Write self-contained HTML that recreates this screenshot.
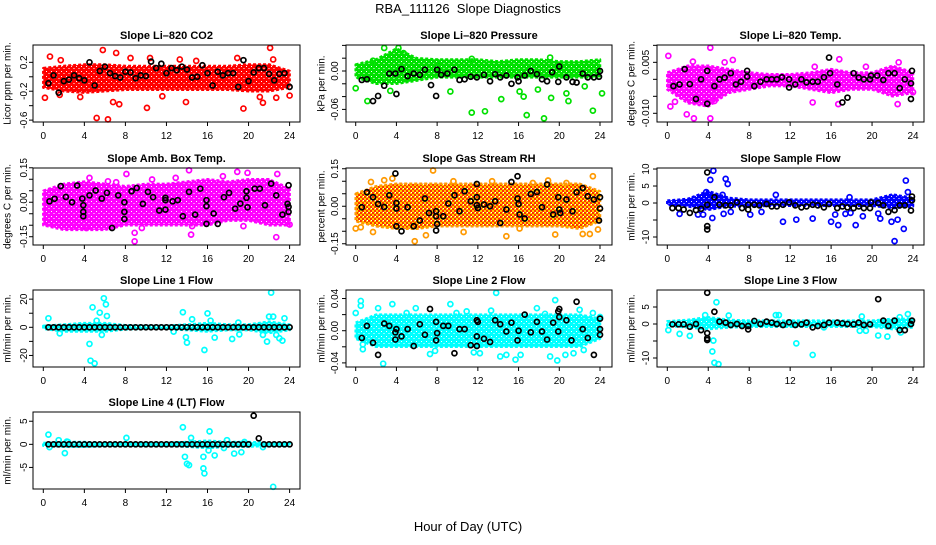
<!DOCTYPE html>
<html><head><meta charset="utf-8">
<style>
html,body{margin:0;padding:0;background:#fff;}
body{width:936px;height:540px;overflow:hidden;font-family:"Liberation Sans",sans-serif;}
svg text{font-family:"Liberation Sans",sans-serif;}
</style></head>
<body>
<svg id="chart" width="936" height="540" viewBox="0 0 936 540" xmlns="http://www.w3.org/2000/svg">
<defs id="defs">
<pattern id="pat-orange" width="4" height="4" patternUnits="userSpaceOnUse">
<rect width="4" height="4" fill="#ffd000"/><rect width="2" height="2" fill="#ff3000"/><rect x="2" y="2" width="2" height="2" fill="#ff3000"/><rect x="3" y="0" width="1" height="1" fill="#fff"/>
</pattern>
</defs>
<text x="468" y="13" font-size="13" text-anchor="middle">RBA_111126&#160; Slope Diagnostics</text>
<text x="468" y="531" font-size="13" text-anchor="middle">Hour of Day (UTC)</text>
<g id="panels"></g>
</svg>
<script>
// ---- shared data ----
const xTicks = [0, 4, 8, 12, 16, 20, 24];
const bandHours = [0, 2, 4, 6, 8, 10, 12, 14, 16, 18, 20, 22, 24];
const halfHours = [0.5,1,1.5,2,2.5,3,3.5,4,4.5,5,5.5,6,6.5,7,7.5,8,8.5,9,9.5,10,10.5,11,11.5,12,12.5,13,13.5,14,14.5,15,15.5,16,16.5,17,17.5,18,18.5,19,19.5,20,20.5,21,21.5,22,22.5,23,23.5,24];

// ---- Panel 1: Li-820 CO2 ----
const p1Ticks = [-0.6, -0.4, -0.2, 0, 0.2];
const p1TickLabels = ["-0.6", "", "-0.2", "", "0.2"];
const p1BandLo = [-0.15,-0.2,-0.22,-0.2,-0.18,-0.18,-0.18,-0.18,-0.18,-0.18,-0.2,-0.2,-0.15];
const p1BandHi = [0.12,0.15,0.17,0.17,0.15,0.15,0.15,0.15,0.15,0.15,0.17,0.17,0.08];
const p1OutX = [0.16,0.65,1.7,5.8,7.1,5.2,6.3,8.5,10.1,10.4,13.9,13.3,19.5,18.9,22.1,21.4,22.7,21.1,24,11.6,6.8,7.4,3.6,1.6,22.4,14.9];
const p1OutY = [-0.29,0.28,0.23,0.37,0.33,-0.57,-0.59,0.26,-0.43,0.26,-0.35,0.24,-0.44,0.26,0.4,-0.36,-0.29,-0.28,-0.26,-0.27,-0.35,-0.38,-0.28,-0.25,0.24,0.22];
const p1BlkX = halfHours;
const p1BlkY = [-0.09,0.02,-0.22,-0.06,-0.04,0.02,-0.02,-0.05,0.2,-0.12,0.08,0.14,0.05,0.01,-0.01,0.07,0.06,-0.02,0.02,0.01,0.21,0.12,0.18,0.05,0.12,0.09,0.14,0.1,-0.01,0,0.16,0.05,-0.12,0.07,0.02,0.05,0.05,-0.14,0.23,-0.06,0.06,0.12,0.12,0.04,-0.05,0.04,0.05,-0.14];

// ---- Panel 2: Li-820 Pressure ----
const p2Ticks = [-0.06, -0.04, -0.02, 0, 0.02, 0.04];
const p2TickLabels = ["-0.06", "", "", "0.00", "", ""];
const p2BandLo = [-0.01,-0.02,-0.02,-0.015,-0.01,-0.01,-0.01,-0.01,-0.01,-0.01,-0.01,-0.01,-0.01];
const p2BandHi = [0.01,0.018,0.035,0.02,0.018,0.018,0.018,0.015,0.018,0.018,0.015,0.015,0.018];
const p2OutX = [0,1.15,2.8,4.2,4.7,3.4,9.3,11.4,12.7,11.4,14.3,16.1,16.5,16.8,17.9,18.5,19.1,19.2,20.7,20.9,22.5,23.3,24.2,1.7,8];
const p2OutY = [-0.027,-0.047,0.036,0.036,0.028,-0.031,-0.032,-0.065,-0.063,0.019,-0.044,-0.032,-0.04,-0.069,-0.029,-0.074,0.021,-0.042,-0.035,-0.047,-0.024,-0.062,-0.035,0.016,0.014];
const p2BlkX = [0.6,1.1,1.7,2.2,2.8,3.3,3.9,4.0,4.5,5.1,5.7,6.3,6.8,7.4,7.9,8,8.4,9.0,9.7,10.2,10.7,11.3,11.9,12.6,13.2,13.7,14.2,14.8,15.3,15.9,16,16.6,17.2,17.8,18.3,18.8,19.3,19.9,20,20.7,21.3,21.7,22.3,22.8,23.4,23.9,24];
const p2BlkY = [-0.014,-0.013,-0.047,-0.039,-0.023,-0.004,-0.004,-0.036,0.003,-0.008,-0.004,-0.006,0.002,-0.022,-0.039,0.002,-0.006,-0.004,0.002,-0.014,-0.013,-0.009,-0.01,-0.006,-0.016,-0.005,-0.01,-0.007,-0.02,-0.01,-0.016,-0.007,0,-0.005,-0.013,-0.016,-0.002,-0.017,0.007,-0.01,-0.017,-0.018,-0.004,-0.01,-0.01,-0.009,0];

// ---- Panel 3: Li-820 Temp ----
const p3Ticks = [-0.01, -0.005, 0, 0.005, 0.01];
const p3TickLabels = ["-0.010", "", "", "0.005", ""];
const p3BandLo = [-0.003,-0.007,-0.008,-0.004,-0.003,-0.002,-0.002,-0.003,-0.004,-0.003,-0.003,-0.005,-0.004];
const p3BandHi = [0.002,0.004,0.004,0.003,0.002,0.0015,0.0015,0.002,0.003,0.002,0.002,0.004,0.002];
const p3OutX = [0.1,4.2,4.2,2.6,1.9,0.3,0.75,14.2,16.7,16.8,6.4,5.6,19.4,22.6,22.5,24,14.4,4.6,2.5];
const p3OutY = [0.0069,0.0093,-0.0115,-0.0115,-0.0103,-0.008,-0.0066,-0.0068,-0.0073,0.0059,0.0057,0.005,0.0037,0.005,-0.0073,-0.0038,0.0037,-0.0064,0.0052];
const p3BlkX = [0.6,1.2,1.7,2.2,2.8,3.3,3.9,3.9,4.6,5.1,5.6,6.2,6.7,7.2,7.8,7.8,8.5,9.1,9.7,10.2,10.7,11.2,11.9,11.9,12.5,13.1,13.6,14.2,14.7,15.3,15.8,15.9,16.6,17.1,17.6,18.2,18.7,19.2,19.8,19.9,20.5,21.1,21.6,22.2,22.7,23.2,23.8,23.9,23.8];
const p3BlkY = [-0.002,-0.0015,0.003,-0.0014,-0.0058,0,0.0025,-0.0072,-0.002,0,0.0005,0.0018,-0.0015,-0.0007,0.0025,0.0008,-0.002,-0.0007,0,0,0,0.0006,0,-0.0024,-0.0015,0,-0.0009,-0.0007,-0.0007,0.0006,0.0064,0.0018,-0.0015,-0.0068,-0.0054,0.0018,0.0005,0,0,0.0011,0.0011,-0.0002,0.0018,0.0018,-0.0026,0,-0.0058,0.0025,-0.0012];

// ---- Panel 4: Amb. Box Temp ----
const p4Ticks = [-0.15,-0.1,-0.05,0,0.05,0.1,0.15];
const p4TickLabels = ["-0.15","","","0.00","","","0.15"];
const p4BandLo = [-0.1,-0.12,-0.12,-0.12,-0.1,-0.1,-0.1,-0.1,-0.1,-0.08,-0.08,-0.1,-0.1];
const p4BandHi = [0.05,0.08,0.09,0.08,0.07,0.08,0.08,0.09,0.1,0.09,0.1,0.1,0.06];
const p4OutX = [8.1,14.2,18.9,19.9,22.8,12.9,17.5,8.9,8.9,9.6,14.4,22.7,24,4.2,3.2,4.5,6.3,7.1,10.6,19.5,14.5];
const p4OutY = [0.123,0.139,0.132,0.128,0.123,0.106,0.113,-0.133,-0.17,-0.112,-0.141,-0.152,-0.097,-0.112,-0.104,0.106,0.091,0.087,0.099,-0.104,-0.104];
const p4BlkX = [0.6,1.1,1.7,2.2,2.8,3.3,3.8,3.9,3.9,3.9,4.5,5.1,5.7,6.2,6.7,7.3,7.9,7.9,7.9,8.6,9.1,9.7,10.2,10.7,11.3,11.9,11.9,11.9,12.6,13.1,13.6,14.2,14.8,15.3,15.9,15.9,15.9,16.6,17.0,17.6,18.1,18.7,19.2,19.8,19.8,19.9,20.6,21.1,21.6,22.2,22.7,23.3,23.8,23.9,23.9,23.9];
const p4BlkY = [0.004,0.015,0.07,0.023,0,0.073,0.016,-0.042,-0.013,-0.061,0.03,0.051,0.016,0.041,-0.112,0.03,0,-0.042,-0.073,0.048,0.062,-0.007,0.045,0.022,-0.036,0.009,-0.032,0.019,0.004,0.009,-0.061,0.045,-0.054,0.059,0.009,-0.017,-0.094,-0.049,-0.094,0.022,0.041,-0.028,-0.006,0.048,0.019,-0.022,0.059,0.059,-0.013,0.081,0.03,-0.054,-0.007,-0.02,-0.042,0.074];

// ---- Panel 5: Gas Stream RH ----
const p5Ticks = [-0.15,-0.1,-0.05,0,0.05,0.1,0.15];
const p5TickLabels = ["-0.15","","","0.00","","","0.15"];
const p5BandLo = [-0.06,-0.08,-0.09,-0.09,-0.08,-0.08,-0.08,-0.08,-0.08,-0.08,-0.08,-0.09,-0.06];
const p5BandHi = [0.05,0.08,0.09,0.09,0.09,0.09,0.09,0.09,0.09,0.09,0.09,0.09,0.06];
const p5OutX = [0,0.5,1.5,1.7,2.8,3.6,7.6,6.9,5.8,9.6,10.6,13.4,14.8,16.1,18.9,19.6,22.3,23,23.3,23.8,20.7,17.4];
const p5OutY = [-0.089,-0.084,0.097,-0.103,0.104,0.111,0.143,-0.116,-0.14,0.1,-0.103,0.1,-0.12,-0.089,0.103,-0.113,-0.111,-0.111,0.12,-0.093,0.093,0.093];
const p5BlkX = [0.6,1.1,1.7,2.2,2.8,3.3,3.9,4.0,4.0,4.0,4.5,5.1,5.7,6.3,6.8,7.2,7.9,7.9,8.0,7.9,8.6,9.1,9.7,10.2,10.7,11.3,11.9,11.9,11.9,12.0,12.6,13.2,13.7,14.2,14.8,15.3,15.9,15.9,16,16.1,16.6,17.2,17.8,18.3,18.8,19.4,19.9,20.0,20.1,20.7,21.3,21.7,22.3,22.8,23.4,23.9,24,24];
const p5BlkY = [-0.004,0.056,0.036,0.009,-0.003,0.044,0.131,0.013,-0.009,-0.08,-0.1,-0.004,-0.08,-0.057,0.031,-0.027,-0.02,-0.04,-0.071,-0.097,-0.04,0.011,0.044,-0.02,0.06,0.02,0.089,0.036,0.004,-0.007,0.007,0,0.02,-0.067,-0.013,0.097,0.12,0.031,0.009,-0.033,-0.049,0.049,0.057,-0.004,0.087,-0.033,0.036,-0.013,-0.027,0.027,-0.02,0.056,0.073,0.04,0.027,-0.057,-0.009,0.036];

// ---- Panel 6: Sample Flow ----
const p6Ticks = [-10,-5,0,5,10];
const p6TickLabels = ["-10","","0","5","10"];
const p6BandLo = [-0.5,-1,-2,-1,-1,-0.8,-0.8,-0.8,-0.8,-0.8,-0.8,-1.5,-1];
const p6BandHi = [0.7,1.2,3.5,1.5,1,1,1,1,1,1,1,2.5,1.5];
const p6OutX = [3.8,4.2,4.5,4.4,5.7,5.9,5.4,5.5,6.2,8.1,9.2,10.6,11.3,12.6,14.2,16,16.4,16.7,17.4,17.9,18.4,19.1,20.6,20.8,21.9,22.2,22.5,23.1,23.3,23.5,1.2,3,3.5,17.8];
const p6OutY = [3.2,6.8,9.5,-4.4,7.1,5.6,2.4,-3.2,-2.6,-3.4,-2.6,2.4,-5.5,-4.9,-4.6,-5.5,-3.4,-6.5,-3.2,-2.9,-6.5,-3.9,-3.1,-4.6,-5.5,-11.2,-4.9,-7.6,6.6,3.2,-3.2,-3.4,-3.4,1.7];
const p6BlkX = [0.5,1.1,1.6,2.2,2.8,3.3,3.9,3.9,3.9,3.9,4.6,5.1,5.7,6.2,6.8,7.3,7.9,7.9,8.5,9.0,9.7,10.2,10.7,11.3,11.9,12.5,13.1,13.6,14.2,14.7,15.3,15.8,16.6,17.1,17.6,18.2,18.7,19.2,19.8,19.9,20.6,21.1,21.6,22.2,22.7,23.2,23.8,23.9,23.9];
const p6BlkY = [-1.5,-1.5,-1.9,-2.9,-2.1,-1.7,-0.5,9.0,-6.8,-7.8,1.7,-0.5,-0.7,-0.7,0.2,-1.5,-0.5,-1.9,-0.5,-0.7,-0.3,-1.0,-1.0,-0.5,0.2,-0.7,-1.3,-1.0,-0.5,-0.7,-1.3,-0.3,-1.5,-1.0,-1.3,-1.5,-1.0,-1.5,-1.5,0.2,0,-0.7,-2.6,-2.1,-0.7,-0.7,-2.2,0.8,1.9];

// ---- Panel 7: Line 1 Flow ----
const p7Ticks = [-20,-10,0,10,20];
const p7TickLabels = ["-20","","0","","20"];
const p7BandLo = [-1,-3,-3,-3,-1.5,-1,-1,-2,-3,-2,-2,-4,-2];
const p7BandHi = [1,2,3,3,1.5,1,1,2,3,2,2,4,2];
const p7OutX = [0.5,4.8,4.5,4.6,5,5.5,5.9,6.1,6.2,5.7,5.2,13.6,13.9,14,14.5,15.7,16,16.3,16.7,18.4,19,19.1,21.8,22,22.2,22.4,22.7,23,23.3,23.5,1.6,12.7,21.4];
const p7OutY = [6.4,14.2,-11.8,-23.7,-25.6,10.4,20.6,16.3,8,-5.4,4.7,10.7,-7.1,-10.9,5.7,-16.1,9.9,4.7,-7.3,-8.3,3.3,-5,-10.2,7.6,24.6,7.6,-5.4,-7.8,-9.5,6.4,-4.3,-3.1,-5.4];
const p7BlkX = halfHours;
const p7BlkY = [0,0,0,0,0,0,0,0,0,0,0,0,0,0,0,0,0,0,0,0,0,0,0,0,0,0,0,0,0,0,0,0,0,0,0,0,0,0,0,0,0,0,0,0,0,0,0,0];

// ---- Panel 8: Line 2 Flow ----
const p8Ticks = [-0.04,-0.02,0,0.02,0.04];
const p8TickLabels = ["-0.04","","0.00","","0.04"];
const p8BandLo = [-0.01,-0.02,-0.02,-0.02,-0.02,-0.02,-0.02,-0.02,-0.02,-0.02,-0.02,-0.02,-0.01];
const p8BandHi = [0.01,0.02,0.02,0.02,0.02,0.02,0.02,0.02,0.02,0.02,0.02,0.02,0.015];
const p8OutX = [0,0.5,0.5,0.7,0.7,2.2,2.7,3.6,5,5.9,7.3,7.8,9.3,9.9,10.9,11.6,12.2,13.3,13.8,14.2,14.8,15.7,16.2,17.8,18.6,19.1,19.6,19.8,20.6,21.4,22,22.4,23.3,24];
const p8OutY = [0.022,0.037,0.031,-0.017,-0.023,0.028,-0.041,0.033,0.022,0.028,-0.029,-0.025,0.033,0.022,0.024,-0.027,-0.028,0.025,0.047,-0.032,-0.03,-0.036,-0.03,0.028,0.021,-0.032,0.038,-0.037,-0.03,-0.028,0.026,-0.024,0.022,0.017];
const p8BlkX = [0.6,1.1,1.7,2.2,2.8,3.3,3.9,3.9,4.0,4.5,5.1,5.7,6.3,6.8,7.3,7.9,7.9,8,8.6,9.1,9.7,10.2,10.7,11.3,11.9,12,11.9,11.9,12.6,13.2,13.7,14.2,14.8,15.3,15.9,16,16.6,17.2,17.8,18.3,18.8,19.4,19.9,20,20,19.9,20.7,21.2,21.7,22.3,22.8,23.4,24,24,24];
const p8BlkY = [-0.009,0.006,-0.015,-0.03,0.009,0.006,-0.002,-0.011,0.002,-0.007,0.002,-0.019,0.008,-0.005,0.027,0.011,-0.012,-0.003,0.006,0.006,-0.028,0.002,0.002,-0.018,0.013,0.011,-0.019,-0.007,-0.01,-0.014,0.013,0.008,-0.001,0.01,-0.012,0,0.02,-0.002,0.011,-0.001,-0.011,0.01,0.024,0.027,0.017,-0.001,0.013,-0.012,0.036,0.002,-0.009,-0.03,0.015,0.002,-0.005];

// ---- Panel 9: Line 3 Flow ----
const p9Ticks = [-10,-5,0,5];
const p9TickLabels = ["-10","","0","5"];
const p9BandLo = [-0.5,-1,-1.5,-1,-0.8,-0.8,-0.8,-0.8,-0.8,-0.8,-0.8,-1.5,-1];
const p9BandHi = [0.8,1.2,2,1.2,1,1,1,1,1,1,1,1.5,1.5];
const p9OutX = [0.1,1.2,2.2,3.7,4.5,4.4,4.6,5.0,4.8,6,10.6,10.9,12.6,14.2,15.3,19,18.8,19.4,20.6,21.5,22.7,23.5,22.8];
const p9OutY = [-1.8,-2.9,-3.5,2.6,-4.9,-8.1,-11.4,-11.8,6.4,2.5,2.6,2.6,-5.7,-9.1,-1,2.2,-2,-2,-3.4,-3.7,2,2.9,-2.5];
const p9BlkX = [0.5,1.1,1.6,2.2,2.8,3.3,3.9,3.9,3.9,3.9,4.6,5.1,5.7,6.2,6.8,7.3,7.9,7.9,8.5,9.1,9.7,10.2,10.7,11.3,11.9,12.5,13.1,13.6,14.2,14.7,15.3,15.8,16.6,17.1,17.6,18.2,18.7,19.2,19.8,20.6,21.1,21.6,22.2,22.7,23.2,23.8,23.9];
const p9BlkY = [-0.1,-0.1,-0.1,-0.8,0,-1.8,9.2,-2.7,-4.2,-4.7,3.6,0.7,0.4,-0.3,0,-0.6,-0.6,-1.6,0.9,0,0.7,0.4,0,-0.3,0.5,-0.3,-0.1,0.4,-1,-0.6,-0.3,0.4,0.4,0.2,0,-0.1,0.4,-0.3,-0.1,7.3,1,-0.6,1,-1.8,-1.8,0,1];

// ---- Panel 10: Line 4 (LT) Flow ----
const p10Ticks = [-5,0,5];
const p10TickLabels = ["-5","0","5"];
const p10BandLo = [-0.3,-0.5,-0.5,-0.3,-0.3,-0.3,-0.3,-0.5,-0.8,-0.5,-0.5,-0.3,-0.3];
const p10BandHi = [0.3,0.5,0.5,0.3,0.3,0.3,0.3,0.5,0.8,0.5,0.5,0.3,0.3];
const p10OutX = [0.5,0.6,1.5,2.1,2.3,2.4,8.1,13.6,13.8,14,14.2,14.4,15.6,15.6,15.7,16.2,16.1,16.7,17.6,17.9,18.6,19.3,19.6,22.4,21.4];
const p10OutY = [2.1,-0.6,0.9,-1.9,0.6,0.5,1.4,3.7,-2.7,-4.2,-4.5,1.4,-2.7,-5.2,-6.3,2.8,-1.3,-2.4,-0.8,0.9,-2,-1.7,0.5,-9.2,-0.6];
const p10BlkX = halfHours;
const p10BlkY = [0,0,0,0,0,0,0,0,0,0,0,0,0,0,0,0,0,0,0,0,0,0,0,0,0,0,0,0,0,0,0,0,0,0,0,0,0,0,0,0,6.2,1.3,0,0,0,0,0,0];

// ---- panel layout (positions only) ----
const cols = [{x0:43.3,x24:289.6,bl:33,br:300,tl:27,yt:8},{x0:355.7,x24:600,bl:346,br:612,tl:338,yt:322},{x0:667.3,x24:913,bl:657,br:924,tl:649,yt:632}];
const rows = [{t:45,b:122},{t:168,b:245},{t:290,b:367},{t:412,b:489}];
const panels = [
 {name:'li820-co2',title:'Slope Li\u2013820 CO2',ylab:'Licor ppm per min.',c:0,r:0,lo:-0.626,hi:0.44,ticks:p1Ticks,labels:p1TickLabels,bLo:p1BandLo,bHi:p1BandHi,ox:p1OutX,oy:p1OutY,kx:p1BlkX,ky:p1BlkY,col:'#ff0000'},
 {name:'li820-pressure',title:'Slope Li\u2013820 Pressure',ylab:'kPa per min.',c:1,r:0,lo:-0.0797,hi:0.0406,ticks:p2Ticks,labels:p2TickLabels,bLo:p2BandLo,bHi:p2BandHi,ox:p2OutX,oy:p2OutY,kx:p2BlkX,ky:p2BlkY,col:'#00e000'},
 {name:'li820-temp',title:'Slope Li\u2013820 Temp.',ylab:'degrees C per min.',c:2,r:0,lo:-0.01256,hi:0.0101,ticks:p3Ticks,labels:p3TickLabels,bLo:p3BandLo,bHi:p3BandHi,ox:p3OutX,oy:p3OutY,kx:p3BlkX,ky:p3BlkY,col:'#ff00ff'},
 {name:'amb-box-temp',title:'Slope Amb. Box Temp.',ylab:'degrees C per min.',c:0,r:1,lo:-0.186,hi:0.149,ticks:p4Ticks,labels:p4TickLabels,bLo:p4BandLo,bHi:p4BandHi,ox:p4OutX,oy:p4OutY,kx:p4BlkX,ky:p4BlkY,col:'#ff00ff'},
 {name:'gas-stream-rh',title:'Slope Gas Stream RH',ylab:'percent per min.',c:1,r:1,lo:-0.155,hi:0.153,ticks:p5Ticks,labels:p5TickLabels,bLo:p5BandLo,bHi:p5BandHi,ox:p5OutX,oy:p5OutY,kx:p5BlkX,ky:p5BlkY,col:'#ff9900',pat:'pat-orange'},
 {name:'sample-flow',title:'Slope Sample Flow',ylab:'ml/min per min.',c:2,r:1,lo:-12.35,hi:10.3,ticks:p6Ticks,labels:p6TickLabels,bLo:p6BandLo,bHi:p6BandHi,ox:p6OutX,oy:p6OutY,kx:p6BlkX,ky:p6BlkY,col:'#0000ff'},
 {name:'line1-flow',title:'Slope Line 1 Flow',ylab:'ml/min per min.',c:0,r:2,lo:-28.2,hi:26.5,ticks:p7Ticks,labels:p7TickLabels,bLo:p7BandLo,bHi:p7BandHi,ox:p7OutX,oy:p7OutY,kx:p7BlkX,ky:p7BlkY,col:'#00ffff'},
 {name:'line2-flow',title:'Slope Line 2 Flow',ylab:'ml/min per min.',c:1,r:2,lo:-0.0451,hi:0.0506,ticks:p8Ticks,labels:p8TickLabels,bLo:p8BandLo,bHi:p8BandHi,ox:p8OutX,oy:p8OutY,kx:p8BlkX,ky:p8BlkY,col:'#00ffff'},
 {name:'line3-flow',title:'Slope Line 3 Flow',ylab:'ml/min per min.',c:2,r:2,lo:-12.65,hi:10,ticks:p9Ticks,labels:p9TickLabels,bLo:p9BandLo,bHi:p9BandHi,ox:p9OutX,oy:p9OutY,kx:p9BlkX,ky:p9BlkY,col:'#00ffff'},
 {name:'line4-lt-flow',title:'Slope Line 4 (LT) Flow',ylab:'ml/min per min.',c:0,r:3,lo:-9.67,hi:7.0,ticks:p10Ticks,labels:p10TickLabels,bLo:p10BandLo,bHi:p10BandHi,ox:p10OutX,oy:p10OutY,kx:p10BlkX,ky:p10BlkY,col:'#00ffff'}
];

const NS = 'http://www.w3.org/2000/svg';
function mk(tag, attrs, parent){const e=document.createElementNS(NS,tag);for(const k in attrs)e.setAttribute(k,attrs[k]);parent.appendChild(e);return e;}
const root = document.getElementById('panels');
const defs = document.getElementById('defs');

panels.forEach((p, pi) => {
  const C = cols[p.c], R = rows[p.r];
  const xs = h => C.x0 + (C.x24 - C.x0) * h / 24;
  const ys = v => R.b - (v - p.lo) / (p.hi - p.lo) * (R.b - R.t);
  let fillRef = p.pat;
  if (!fillRef) {
    fillRef = 'pat-' + pi;
    const pat = mk('pattern', {id:fillRef, width:5, height:5, patternUnits:'userSpaceOnUse'}, defs);
    mk('rect', {width:5, height:5, fill:p.col}, pat);
    mk('rect', {x:1, y:1, width:1, height:1, fill:'#fff'}, pat);
    mk('rect', {x:3.5, y:3, width:1, height:1, fill:'#fff'}, pat);
  }
  const g = mk('g', {}, root);
  
  
  const t = mk('text', {x:(C.bl+C.br)/2, y:R.t-6, 'font-size':11, 'font-weight':'bold', 'text-anchor':'middle'}, g);
  t.textContent = p.title;
  
  
  const ym = (R.t + R.b) / 2;
  const yl = mk('text', {x:C.yt, y:ym, 'font-size':10, 'text-anchor':'middle', transform:`rotate(-90 ${C.yt} ${ym})`, 'dominant-baseline':'central'}, g);
  yl.textContent = p.ylab;
  
  
  let pts = [];
  bandHours.forEach((h,i) => pts.push(xs(h)+','+ys(p.bHi[i])));
  for (let i = bandHours.length-1; i >= 0; i--) pts.push(xs(bandHours[i])+','+ys(p.bLo[i]));
  const band = mk('polygon', {points:pts.join(' '), fill:'url(#'+fillRef+')', stroke:p.col, 'stroke-width':2.5, 'stroke-dasharray':'3 2', 'stroke-linejoin':'round'}, g);
  
  
  p.ox.forEach((h,i) => {
    const c = mk('circle', {cx:xs(h), cy:ys(p.oy[i]), r:2.5, fill:'none', stroke:p.col, 'stroke-width':1.7}, g);
    
    
  });
  p.kx.forEach((h,i) => {
    const c = mk('circle', {cx:xs(h), cy:ys(p.ky[i]), r:2.5, fill:'none', stroke:'#000', 'stroke-width':1.7}, g);
    
    
  });
  const box = mk('rect', {x:C.bl, y:R.t, width:C.br-C.bl, height:R.b-R.t, fill:'none', stroke:'#000', 'stroke-width':1}, g);
  
  
  xTicks.forEach(h => {
    mk('line', {x1:xs(h), x2:xs(h), y1:R.b, y2:R.b+4, stroke:'#000'}, g);
    const tl = mk('text', {x:xs(h), y:R.b+17, 'font-size':10, 'text-anchor':'middle'}, g);
    tl.textContent = h;
    
    
  });
  p.ticks.forEach((v,i) => {
    const y = ys(v);
    mk('line', {x1:C.bl-4, x2:C.bl, y1:y, y2:y, stroke:'#000'}, g);
    if (p.labels[i]) {
      const tl = mk('text', {x:C.tl, y:y, 'font-size':10, 'text-anchor':'middle', transform:`rotate(-90 ${C.tl} ${y})`}, g);
      tl.textContent = p.labels[i];
      
      
    }
  });
});
</script>
</body></html>
